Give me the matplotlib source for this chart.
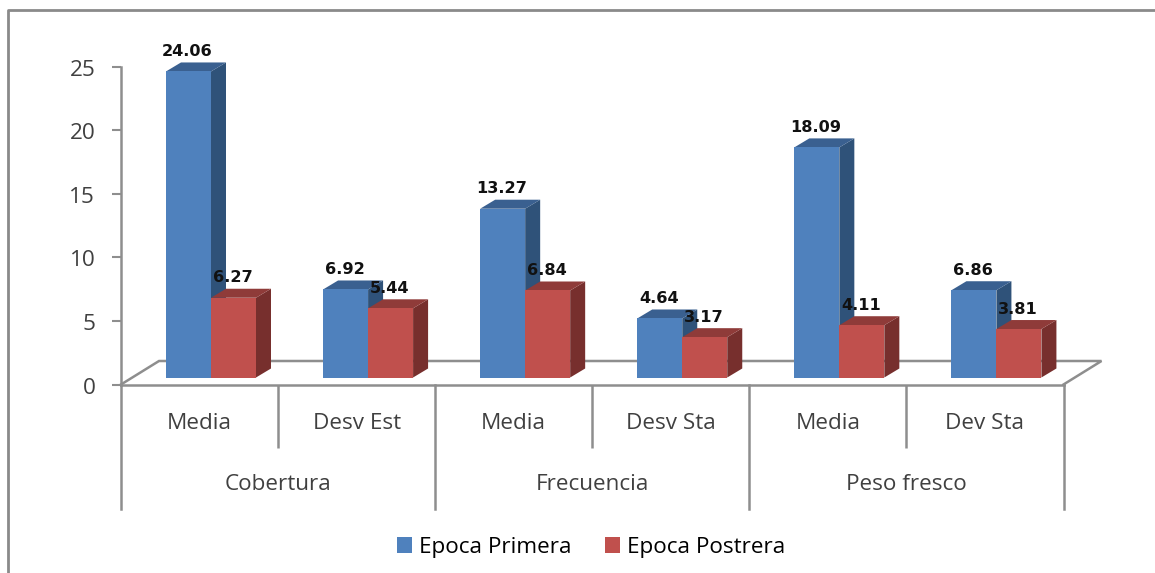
import matplotlib
matplotlib.use("Agg")
import matplotlib.pyplot as plt
from matplotlib.lines import Line2D
from matplotlib.patches import Patch
from matplotlib.transforms import ScaledTranslation, blended_transform_factory

measures = ["Media", "Desv Est", "Media", "Desv Sta", "Media", "Dev Sta"]
groups = ["Cobertura", "Frecuencia", "Peso fresco"]
primera = [24.06, 6.92, 13.27, 4.64, 18.09, 6.86]
postrera = [6.27, 5.44, 6.84, 3.17, 4.11, 3.81]
series_names = ["Epoca Primera", "Epoca Postrera"]
y_ticks = [0, 5, 10, 15, 20, 25]

W, H = 1155, 573
PX_X0, PX_X1, PX_Y0, PX_Y25 = 121, 1063.5, 384.5, 66.5
GREY = "#8e8e8e"
TXT = "#404040"
FONT = "Open Sans"
FS = 16.2

fig = plt.figure(figsize=(W / 100, H / 100), dpi=100, facecolor="white")
ax = fig.add_axes([PX_X0 / W, 1 - PX_Y0 / H, (PX_X1 - PX_X0) / W, (PX_Y0 - PX_Y25) / H])
ax.set_xlim(0, len(measures))
ax.set_ylim(0, 25)
ax.patch.set_visible(False)
px_x = len(measures) / (PX_X1 - PX_X0)
px_y = 25 / (PX_Y0 - PX_Y25)

# depth projection of the 3D look, in data units
dx, dy = 15 * px_x, 9 * px_y
floor_dx, floor_dy = 38 * px_x, 23.5 * px_y
base = 7 * px_y
bar_w = 45 * px_x
margin = 45 * px_x

# floor
ax.plot([0, floor_dx, len(measures) + floor_dx, len(measures)],
        [0, floor_dy, floor_dy, 0], color=GREY, lw=1.8, clip_on=False, zorder=1,
        solid_joinstyle="miter")

series = [
    (primera, 0, "#4F81BD", "#3A6090", "#2F5279"),
    (postrera, 1, "#C0504D", "#8F3B39", "#772F2D"),
]
for i in range(len(measures)):
    for values, k, front, top, side in series:
        v = values[i]
        x0 = i + margin + k * bar_w
        x1 = x0 + bar_w
        y1 = base + v
        z = 3 + k * 2 + i * 0.01
        ax.fill([x1, x1 + dx, x1 + dx, x1], [base, base + dy, y1 + dy, y1],
                color=side, lw=0, clip_on=False, zorder=z)
        ax.fill([x0, x0 + dx, x1 + dx, x1], [y1, y1 + dy, y1 + dy, y1],
                color=top, lw=0, clip_on=False, zorder=z)
        ax.bar(x0, v, width=bar_w, bottom=base, align="edge", color=front, lw=0,
               clip_on=False, zorder=z + 0.5)
        ax.text(x0 + bar_w / 2 - 1 * px_x, y1 + 20 * px_y, f"{v:.2f}", ha="center", va="center",
                fontsize=11.6, fontweight="bold", family="DejaVu Sans",
                color="#111111", zorder=10, clip_on=False)

# axes
for s in ("top", "right"):
    ax.spines[s].set_visible(False)
for s in ("left", "bottom"):
    ax.spines[s].set_color(GREY)
    ax.spines[s].set_linewidth(1.8)
    ax.spines[s].set_zorder(2)
ax.set_yticks(y_ticks)
ax.tick_params(axis="y", length=6.5, width=1.5, color=GREY, pad=12,
               labelsize=FS, labelcolor=TXT)
nudge = ScaledTranslation(0, -1 / 100, fig.dpi_scale_trans)
for t in ax.get_yticklabels():
    t.set_family(FONT)
    t.set_transform(t.get_transform() + nudge)

ax.set_xticks([j for j in range(len(measures) + 1) if j % 2 == 1])
ax.set_xticklabels([""] * 3)
ax.tick_params(axis="x", which="major", length=45, width=1.8, color=GREY, direction="out")
ax.set_xticks([j + 0.5 for j in range(len(measures))], minor=True)
ax.set_xticklabels(measures, minor=True, family=FONT, fontsize=FS, color=TXT)
ax.tick_params(axis="x", which="minor", length=0, pad=20.5)

trans = blended_transform_factory(ax.transData, ax.transAxes)
for j in range(0, len(measures) + 1, 2):
    ax.add_line(Line2D([j, j], [0, -124.5 / (PX_Y0 - PX_Y25)], transform=trans, color=GREY,
                       lw=1.8, clip_on=False))
for g, name in enumerate(groups):
    ax.text(2 * g + 1, -100.5 / (PX_Y0 - PX_Y25), name, transform=trans, ha="center", va="center",
            family=FONT, fontsize=FS, color=TXT)

# legend
handles = [Patch(facecolor=series[k][2], edgecolor="none", label=series_names[k]) for k in range(2)]
fig.legend(handles=handles, loc="center", bbox_to_anchor=(591 / W, 1 - 547.5 / H), ncol=2,
           frameon=False, prop={"family": FONT, "size": FS}, handlelength=0.67, handleheight=0.67,
           handletextpad=0.3, columnspacing=1.5, borderpad=0)

# outer chart frame (only the top and left edges are inside the picture)
fig.add_artist(Line2D([1, 8 / W, 8 / W], [1 - 10 / H, 1 - 10 / H, 0], color="#8a8a8a", lw=2,
                      transform=fig.transFigure))

fig.savefig("out.png", dpi=100)
